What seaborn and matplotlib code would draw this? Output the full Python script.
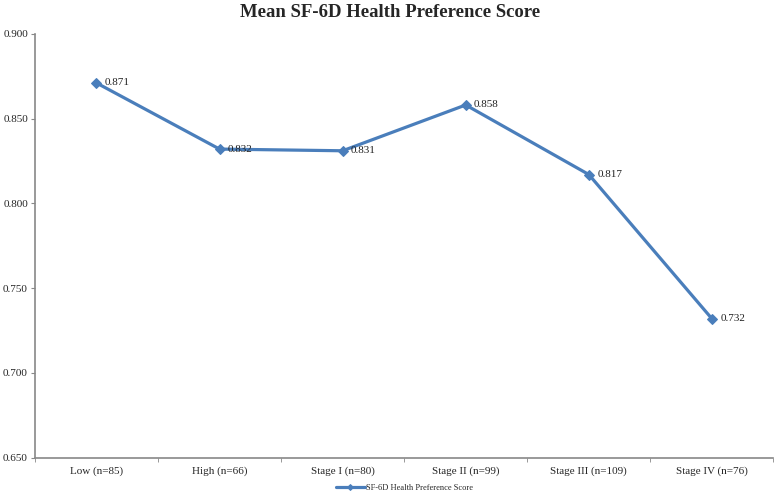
import numpy as np
import pandas as pd
import matplotlib
matplotlib.use('Agg')
import matplotlib.pyplot as plt
import seaborn as sns
from matplotlib.ticker import FixedLocator

# Data
groups = ['Low (n=85)', 'High (n=66)', 'Stage I (n=80)', 'Stage II (n=99)',
          'Stage III (n=109)', 'Stage IV (n=76)']
scores = [0.871, 0.832, 0.831, 0.858, 0.817, 0.732]
series_name = 'SF-6D Health Preference Score'

df = pd.DataFrame({'group': groups, 'score': scores})
df['pos'] = np.arange(len(groups))

sns.set_style('white')
plt.rcParams['font.family'] = ['Liberation Serif', 'DejaVu Serif']

fig = plt.figure(figsize=(7.75, 4.96), dpi=100)
ax = fig.add_axes([0.045, 0.077, 0.953, 0.855])

line_color = '#4a7ebb'
sns.lineplot(data=df, x='pos', y='score', ax=ax, color=line_color,
             linewidth=2.3, marker='D', markersize=5, markeredgecolor=line_color,
             label=series_name)

for x, y in zip(df['pos'], df['score']):
    ax.annotate(f'{y:.3f}', (x, y), xytext=(6, 0), textcoords='offset points',
                ha='left', va='center', fontsize=8, color='#222222')

yticks = np.arange(0.65, 0.9001, 0.05)
ax.set_ylim(0.65, 0.90)
ax.set_yticks(yticks)
ax.set_yticklabels([f'{v:.3f}' for v in yticks], fontsize=8)
ax.set_xlim(-0.5, len(groups) - 0.5)
ax.set_xticks(df['pos'])
ax.set_xticklabels(groups, fontsize=8)
ax.xaxis.set_minor_locator(FixedLocator(np.arange(-0.5, len(groups), 1.0)))
ax.tick_params(axis='x', which='major', length=0, pad=6)
ax.tick_params(axis='x', which='minor', length=3, color='#888888', direction='out', bottom=True)
ax.tick_params(axis='y', length=3, color='#888888', direction='out', left=True, pad=2)
ax.set_xlabel('')
ax.set_ylabel('')

for side in ['top', 'right']:
    ax.spines[side].set_visible(False)
for side in ['left', 'bottom']:
    ax.spines[side].set_color('#888888')
    ax.spines[side].set_linewidth(1.2)

fig.suptitle('Mean SF-6D Health Preference Score', fontsize=13.5, fontweight='bold',
             x=0.503, y=0.992, va='top')

leg = ax.legend(loc='center', bbox_to_anchor=(0.5, -0.072), frameon=False,
                fontsize=6, handlelength=3.5, borderpad=0, handletextpad=0.1,
                markerscale=0.6)

fig.savefig('out.png', dpi=100)
